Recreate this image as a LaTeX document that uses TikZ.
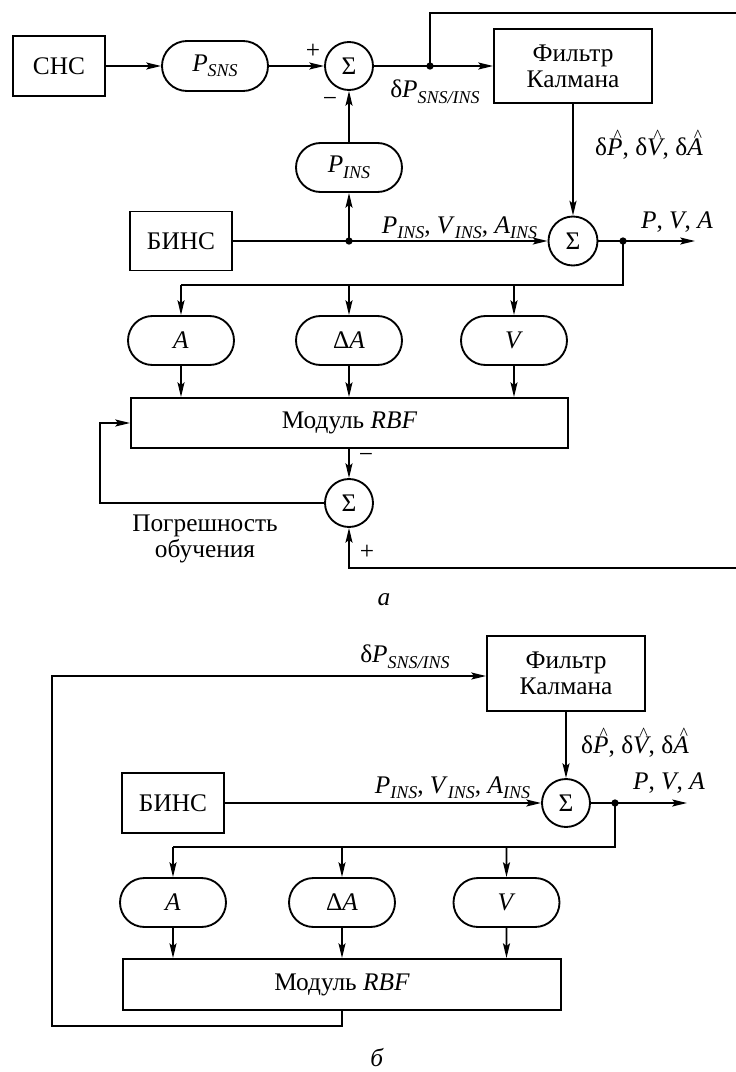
\documentclass[tikz,border=0pt]{standalone}
\usepackage{fontspec}
\setmainfont{Liberation Serif}
\usetikzlibrary{arrows.meta,shapes.misc}
% italic symbol with a lowered italic index
\newcommand\sub[2]{\textit{#1}\raisebox{-0.22em}{\fontsize{13.5}{14}\selectfont\textit{#2}}}
% italic letter with a thin caret above it
\newcommand\hatit[1]{\setbox0=\hbox{\itshape #1}\rlap{\hbox to \wd0{\hss\hspace{0.22em}\raisebox{0.55em}{\fontsize{13}{13}\selectfont\upshape\char"5E}\hss}}\box0}
\begin{document}
\begin{tikzpicture}[x=0.75pt,y=-0.75pt, line width=1.4pt,
  every node/.style={font=\fontsize{19}{19.5}\selectfont},
  blk/.style={draw, rectangle, inner sep=0pt, align=center},
  pill/.style={draw, rounded rectangle, inner sep=0pt, minimum width=79.5pt, minimum height=36.75pt},
  sum/.style={draw, circle, inner sep=0pt, minimum size=36pt},
  arr/.style={-{Stealth[length=11pt,width=5.2pt,inset=2pt]}},
  jn/.style={circle, fill, inner sep=0pt, minimum size=5.5pt},
  lbl/.style={inner sep=0pt}]
\useasboundingbox (0,0) rectangle (736,1072);

% ---------- scheme (а) ----------
\node[blk, minimum width=69pt, minimum height=45pt] (sns) at (59,66) {СНС};
\node[pill, minimum height=37.5pt] (psns) at (215,66) {\sub{P}{SNS}};
\node[sum] (s1) at (349,66) {Σ};
\node[blk, minimum width=118.5pt, minimum height=55.5pt] (kf) at (573,66) {Фильтр\\Калмана};
\node[pill] (pins) at (349,167.5) {\sub{P}{INS}};
\node[blk, minimum width=76.5pt, minimum height=44.25pt] (bins) at (181,241) {БИНС};
\node[sum, minimum size=36.75pt] (s2) at (573,241) {Σ};
\node[pill] (pa) at (181,340.5) {\textit{A}};
\node[pill] (pda) at (349,340.5) {Δ\textit{A}};
\node[pill] (pv) at (514,340.5) {\textit{V}};
\node[blk, minimum width=327.75pt, minimum height=37.5pt] (rbf) at (349.5,423) {Модуль \textit{RBF}};
\node[sum] (s3) at (349,503) {Σ};

\node[jn] (d1) at (430,66) {};
\node[jn] (d2) at (349,241) {};
\node[jn] (d3) at (623,241) {};
\coordinate (c1) at (740,13);
\coordinate (c2) at (740,568);
\coordinate (o1) at (695,241);
\coordinate (bus1) at (181,285);
\coordinate (fb) at (100,503);

\draw[arr] (sns) -- (psns);
\draw[arr] (psns) -- (s1);
\draw[arr] (s1) -- (kf);
\draw[arr] (d1.center) |- (c1) -- (c2) -| (s3.south);
\draw[arr] (pins) -- (s1);
\draw[arr] (kf) -- (s2);
\draw[arr] (bins) -- (s2);
\draw[arr] (d2.center) -- (pins);
\draw[arr] (s2) -- (o1);
\draw (d3.center) |- (bus1);
\draw[arr] (pa.north |- bus1) -- (pa);
\draw[arr] (pda.north |- bus1) -- (pda);
\draw[arr] (pv.north |- bus1) -- (pv);
\draw[arr] (pa) -- (pa.south |- rbf.north);
\draw[arr] (pda) -- (pda.south |- rbf.north);
\draw[arr] (pv) -- (pv.south |- rbf.north);
\draw[arr] (s3 |- rbf.south) -- (s3);
\draw[arr] (s3) -- (fb) |- (rbf.west);

\node[lbl] (plus1) at (313,51) {+};
\node[lbl] (minus1) at (330,102) {−};
\node (lsi) at (435,92) {δ\sub{P}{SNS/INS}};
\node (lhat) at (649,145) {δ\hatit{P}, δ\hatit{V}, δ\hatit{A}};
\node[lbl, anchor=base east] (lins) at (538,233) {\sub{P}{INS}, \sub{V}{INS}, \sub{A}{INS}};
\node (lpva) at (677,222) {\textit{P}, \textit{V}, \textit{A}};
\node[lbl] (minus2) at (366,458) {−};
\node[lbl] (plus2) at (367,552) {+};
\node[align=center] (err) at (205,539) {Погрешность\\обучения};
\node[lbl] (cap1) at (384,600) {\textit{а}};

% ---------- scheme (б) ----------
\node[blk, minimum width=118.5pt, minimum height=56.25pt] (kf2) at (566,673.5) {Фильтр\\Калмана};
\node[sum] (s4) at (566,803) {Σ};
\node[blk, minimum width=76.5pt, minimum height=45pt] (bins2) at (173,803) {БИНС};
\node[pill] (pa2) at (173,902.5) {\textit{A}};
\node[pill] (pda2) at (342,902.5) {Δ\textit{A}};
\node[pill] (pv2) at (506.5,902.5) {\textit{V}};
\node[blk, minimum width=328.5pt, minimum height=38.25pt] (rbf2) at (342,984.5) {Модуль \textit{RBF}};

\node[jn] (d5) at (615,803) {};
\coordinate (o2) at (687,803);
\coordinate (bus2) at (173,847);
\coordinate (b1) at (52,1026);
\coordinate (b2) at (52,676);

\draw[arr] (rbf2.south) |- (b1) -- (b2) -- (b2 -| kf2.west);
\draw[arr] (kf2) -- (s4);
\draw[arr] (bins2) -- (s4);
\draw[arr] (s4) -- (o2);
\draw (d5.center) |- (bus2);
\draw[arr] (pa2.north |- bus2) -- (pa2);
\draw[arr] (pda2.north |- bus2) -- (pda2);
\draw[arr] (pv2.north |- bus2) -- (pv2);
\draw[arr] (pa2) -- (pa2.south |- rbf2.north);
\draw[arr] (pda2) -- (pda2.south |- rbf2.north);
\draw[arr] (pv2) -- (pv2.south |- rbf2.north);

\node (lsi2) at (405,657) {δ\sub{P}{SNS/INS}};
\node (lhat2) at (635,743) {δ\hatit{P}, δ\hatit{V}, δ\hatit{A}};
\node[lbl, anchor=base east] (lins2) at (531,793) {\sub{P}{INS}, \sub{V}{INS}, \sub{A}{INS}};
\node (lpva2) at (669,783) {\textit{P}, \textit{V}, \textit{A}};
\node[lbl] (cap2) at (377,1058) {\textit{б}};
\end{tikzpicture}
\end{document}
